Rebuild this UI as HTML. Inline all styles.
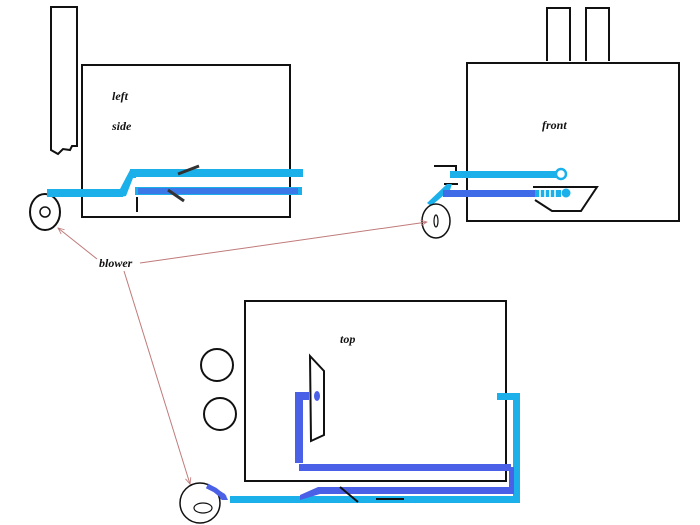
<!DOCTYPE html>
<html><head><meta charset="utf-8"><style>
html,body{margin:0;padding:0;background:#fff;}
svg{display:block;}
text{font-family:"Liberation Serif",serif;font-weight:bold;font-style:italic;font-size:12px;fill:#111;}
</style></head><body>
<svg width="700" height="525" viewBox="0 0 700 525" xmlns="http://www.w3.org/2000/svg">
<defs>
<marker id="ah" viewBox="0 0 10 10" refX="9" refY="5" markerWidth="7" markerHeight="7" orient="auto"><path d="M0,1 L9,5 L0,9" fill="none" stroke="#c07a7a" stroke-width="1.2"/></marker>
</defs>
<!-- LEFT SIDE -->
<path d="M51,150 L51,7 L77,7 L77,146 L72,146 L70,150 L63,149 L58,154 Z" fill="none" stroke="#111" stroke-width="2"/>
<rect x="82" y="65" width="208" height="152" fill="none" stroke="#111" stroke-width="2"/>
<text x="112" y="100">left</text>
<text x="112" y="130">side</text>
<ellipse cx="45" cy="212" rx="15" ry="18" fill="none" stroke="#111" stroke-width="2"/>
<circle cx="45" cy="212" r="5" fill="none" stroke="#111" stroke-width="1.5"/>
<rect x="47" y="189" width="76" height="8" fill="#1bb0ea"/>
<path d="M120,189 L130,170 L136,170 L136,178 L133,178 L126,196 L120,197 Z" fill="#1bb0ea"/>
<rect x="130" y="169" width="173" height="8" fill="#1bb0ea"/>
<rect x="135" y="187" width="167" height="8" fill="#1bb0ea"/>
<rect x="138" y="188" width="160" height="6" fill="#4a60e6" opacity="0.7"/>
<line x1="178" y1="174" x2="199" y2="166" stroke="#333" stroke-width="3"/>
<line x1="168" y1="190" x2="184" y2="201" stroke="#333" stroke-width="3"/>
<line x1="137" y1="197" x2="137" y2="212" stroke="#111" stroke-width="2"/>
<!-- FRONT -->
<rect x="467" y="63" width="212" height="158" fill="none" stroke="#111" stroke-width="2"/>
<path d="M547,61 L547,8 L570,8 L570,61 M586,61 L586,8 L609,8 L609,61" fill="none" stroke="#111" stroke-width="2"/>
<text x="542" y="129">front</text>
<path d="M434,166 L456,166 L456,172" fill="none" stroke="#111" stroke-width="2"/>
<path d="M444,184 L458,184" fill="none" stroke="#111" stroke-width="2"/>
<rect x="450" y="171" width="110" height="7" fill="#1bb0ea"/>
<circle cx="561" cy="174" r="5" fill="#fff" stroke="#1bb0ea" stroke-width="2.5"/>
<path d="M427,203 L447,184 L452,184 L450,190 L431,206 Z" fill="#1bb0ea"/>
<path d="M533,187 L597,187 L581,211 L552,211 L535,200" fill="none" stroke="#111" stroke-width="2"/>
<rect x="443" y="190" width="92" height="7" fill="#3f6be8"/>
<rect x="535" y="190" width="26" height="7" fill="#1bb0ea"/>
<path d="M540,190v7M545,190v7M550,190v7M555,190v7" stroke="#fff" stroke-width="1.5"/>
<circle cx="566" cy="193" r="4.5" fill="#1bb0ea"/>
<ellipse cx="436" cy="221" rx="14" ry="17" fill="#fff" stroke="#111" stroke-width="1.5"/>
<ellipse cx="436" cy="221" rx="2" ry="6" fill="none" stroke="#111" stroke-width="1.2"/>
<!-- TOP -->
<rect x="245" y="301" width="261" height="180" fill="none" stroke="#111" stroke-width="2"/>
<text x="340" y="343">top</text>
<circle cx="217" cy="365" r="16" fill="none" stroke="#111" stroke-width="2"/>
<circle cx="220" cy="414" r="16" fill="none" stroke="#111" stroke-width="2"/>
<path d="M295,392 L309,392 L309,400 L303,400 L303,463 L295,463 Z" fill="#4a60e6"/>
<rect x="299" y="464" width="212" height="7" fill="#4a60e6"/>
<path d="M310,356 L324,371 L324,435 L311,441 Z" fill="none" stroke="#111" stroke-width="2"/>
<ellipse cx="317" cy="396" rx="3" ry="5" fill="#4a60e6"/>
<path d="M497,393 L520,393 L520,503 L230,503 L230,496 L513,496 L513,400 L497,400 Z" fill="#1bb0ea"/>
<path d="M509,467 L514,467 L514,494 L320,494 L300,500 L300,495 L318,487 L509,487 Z" fill="#4a60e6"/>
<path d="M205,487 L210,485 L225,494 L228,500 L222,500 Z" fill="#4a60e6"/>
<line x1="340" y1="487" x2="358" y2="502" stroke="#111" stroke-width="2"/>
<line x1="376" y1="499" x2="404" y2="499" stroke="#111" stroke-width="2"/>
<circle cx="200" cy="503" r="20" fill="#fff" stroke="#111" stroke-width="1.5"/>
<ellipse cx="203" cy="508" rx="9" ry="5" fill="none" stroke="#111" stroke-width="1.2"/>
<path d="M207,486 L215,490 L225,498" fill="none" stroke="#4a60e6" stroke-width="5"/>
<!-- blower label -->
<text x="99" y="267">blower</text>
<line x1="97" y1="259" x2="58" y2="228" stroke="#c07a7a" stroke-width="1" marker-end="url(#ah)"/>
<line x1="140" y1="263" x2="427" y2="222" stroke="#c07a7a" stroke-width="1" marker-end="url(#ah)"/>
<line x1="124" y1="271" x2="190" y2="484" stroke="#c07a7a" stroke-width="1" marker-end="url(#ah)"/>
</svg>
</body></html>
